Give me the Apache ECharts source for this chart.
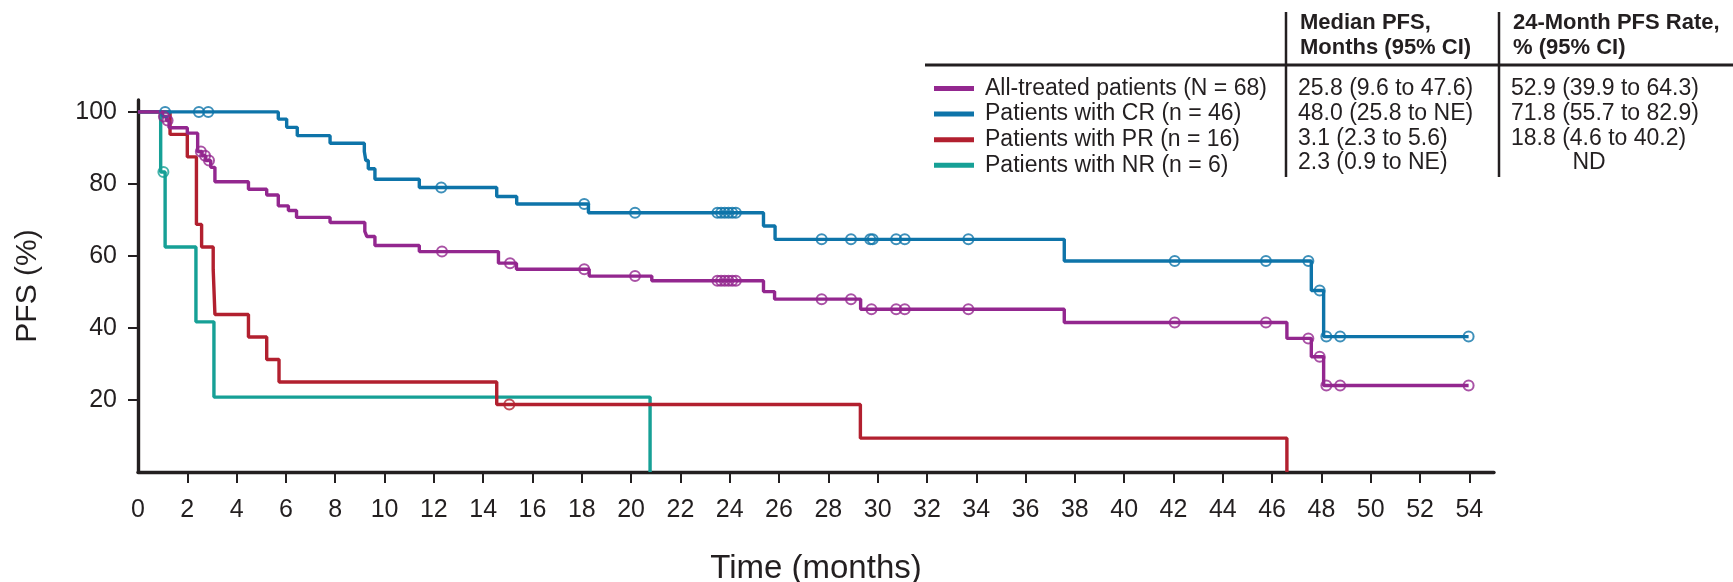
<!DOCTYPE html>
<html>
<head>
<meta charset="utf-8">
<script src="https://cdn.jsdelivr.net/npm/echarts@6/dist/echarts.min.js"></script>
<style>
html,body{margin:0;padding:0;background:#fff;}
#chart{width:1733px;height:582px;}
</style>
</head>
<body>
<div id="chart"></div>
<script>
// ---- Data ----
const seriesNames = [
  'All-treated patients (N = 68)',
  'Patients with CR (n = 46)',
  'Patients with PR (n = 16)',
  'Patients with NR (n = 6)'
];
const seriesColors = ['#93278F', '#0E74A9', '#B2202F', '#16A096'];

const allTimes  = [0, 1.0, 1.15, 1.26, 2.0, 2.42, 2.6, 2.75, 2.95, 3.12, 4.48, 5.22, 5.69, 6.1, 6.43, 7.79, 9.2, 9.28, 9.61, 11.41, 14.62, 15.35, 18.3, 20.84, 25.37, 25.82, 29.31, 37.57, 46.6, 47.59, 48.09, 53.97];
const allValues = [100, 98.7, 97.6, 95.6, 94.1, 89.0, 87.8, 86.5, 84.6, 80.6, 78.5, 76.9, 73.9, 72.6, 70.7, 69.3, 66.8, 65.4, 62.9, 61.2, 58.0, 56.3, 54.4, 53.1, 50.1, 48.0, 45.2, 41.5, 37.1, 32.0, 24.0, 24.0];
const allCensor = [1.05, 1.2, 2.55, 2.72, 2.88, 12.33, 15.09, 18.1, 20.16, 23.5, 23.65, 23.8, 23.95, 24.1, 24.25, 27.73, 28.92, 29.75, 30.75, 31.1, 33.68, 42.05, 45.75, 47.47, 47.93, 48.2, 48.76, 53.97];

const crTimes  = [0, 5.69, 6.03, 6.46, 7.79, 9.18, 9.24, 9.34, 9.61, 11.41, 14.55, 15.36, 18.27, 25.37, 25.84, 37.57, 47.59, 48.09, 53.97];
const crValues = [100, 98.0, 95.7, 93.4, 91.3, 89.0, 86.5, 84.2, 81.3, 79.0, 76.5, 74.4, 72.0, 68.3, 64.6, 58.6, 50.4, 37.6, 37.6];
const crCensor = [1.1, 2.47, 2.85, 12.3, 18.1, 20.16, 23.5, 23.65, 23.8, 23.95, 24.1, 24.25, 27.73, 28.92, 29.7, 29.8, 30.75, 31.1, 33.68, 42.05, 45.75, 47.47, 47.93, 48.2, 48.76, 53.97];

const prTimes  = [0, 1.3, 2.0, 2.37, 2.58, 3.05, 3.12, 4.48, 5.22, 5.72, 14.55, 29.3, 46.6];
const prValues = [100, 93.75, 87.5, 68.75, 62.5, 56.25, 43.75, 37.5, 31.25, 25.0, 18.75, 9.4, 0];
const prCensor = [15.06];

const nrTimes  = [0, 0.92, 1.1, 2.35, 3.08, 20.77];
const nrValues = [100, 83.3, 62.5, 41.7, 20.8, 0];
const nrCensor = [1.03];

const xTickValues = [0,2,4,6,8,10,12,14,16,18,20,22,24,26,28,30,32,34,36,38,40,42,44,46,48,50,52,54];
const yTickValues = [20, 40, 60, 80, 100];

const tableHeadMedian = ['Median PFS,', 'Months (95% CI)'];
const tableHeadRate   = ['24-Month PFS Rate,', '% (95% CI)'];
const medianText = ['25.8 (9.6 to 47.6)', '48.0 (25.8 to NE)', '3.1 (2.3 to 5.6)', '2.3 (0.9 to NE)'];
const rateText   = ['52.9 (39.9 to 64.3)', '71.8 (55.7 to 82.9)', '18.8 (4.6 to 40.2)', 'ND'];

// ---- Build ----
const INK = '#231f20';
const FONT = '"Liberation Sans", Arial, Helvetica, sans-serif';

function zip(t, v) { return t.map((x, i) => [x, v[i]]); }
function valueAt(t, v, x) {
  let k = 0;
  for (let i = 0; i < t.length; i++) { if (t[i] <= x) k = i; }
  return v[k];
}
function censorPts(t, v, c) { return c.map(x => [x, valueAt(t, v, x)]); }

const curves = [
  {t: allTimes, v: allValues, c: allCensor},
  {t: crTimes, v: crValues, c: crCensor},
  {t: prTimes, v: prValues, c: prCensor},
  {t: nrTimes, v: nrValues, c: nrCensor}
];

const series = [];
// draw order: NR, PR, CR, All (All on top)
[3, 2, 1, 0].forEach(i => {
  series.push({
    name: seriesNames[i], type: 'line', step: 'end',
    data: zip(curves[i].t, curves[i].v),
    showSymbol: false, symbol: 'none', clip: false,
    lineStyle: {color: seriesColors[i], width: 3.4},
    itemStyle: {color: seriesColors[i]},
    z: 2, silent: true
  });
});
[3, 2, 1, 0].forEach(i => {
  series.push({
    name: seriesNames[i] + ' censored', type: 'scatter',
    data: censorPts(curves[i].t, curves[i].v, curves[i].c),
    symbol: 'circle', symbolSize: 10,
    itemStyle: {color: 'rgba(255,255,255,0)', borderColor: seriesColors[i], borderWidth: 2},
    z: 3, silent: true
  });
});

// table graphics
const rowY0 = 89, rowStep = 24.6;
const graphics = [];
graphics.push({type: 'line', shape: {x1: 925, y1: 65, x2: 1733, y2: 65}, style: {stroke: INK, lineWidth: 3}});
graphics.push({type: 'line', shape: {x1: 1286, y1: 12, x2: 1286, y2: 177}, style: {stroke: INK, lineWidth: 2.5}});
graphics.push({type: 'line', shape: {x1: 1499, y1: 12, x2: 1499, y2: 177}, style: {stroke: INK, lineWidth: 2.5}});
tableHeadMedian.forEach((s, i) => graphics.push({type: 'text', x: 1300, y: 22.5 + i * 25.8,
  style: {text: s, fill: INK, font: 'bold 22px ' + FONT, textVerticalAlign: 'middle'}}));
tableHeadRate.forEach((s, i) => graphics.push({type: 'text', x: 1513, y: 22.5 + i * 25.8,
  style: {text: s, fill: INK, font: 'bold 22px ' + FONT, textVerticalAlign: 'middle'}}));
medianText.forEach((s, i) => graphics.push({type: 'text', x: 1298, y: rowY0 + i * rowStep,
  style: {text: s, fill: INK, font: '23px ' + FONT, textVerticalAlign: 'middle'}}));
rateText.forEach((s, i) => graphics.push({type: 'text', x: s === 'ND' ? 1589 : 1511, y: rowY0 + i * rowStep,
  style: {text: s, fill: INK, font: '23px ' + FONT, textVerticalAlign: 'middle', textAlign: s === 'ND' ? 'center' : 'left'}}));

const chart = echarts.init(document.getElementById('chart'), null, {renderer: 'canvas'});
chart.setOption({
  animation: false,
  backgroundColor: '#fff',
  grid: {left: 138, right: 239, top: 100, bottom: 110, containLabel: false, outerBoundsMode: 'none'},
  legend: {
    data: seriesNames.map((n, i) => ({name: n, icon: 'rect', itemStyle: {color: seriesColors[i]}})),
    orient: 'vertical', left: 929, top: 72,
    itemWidth: 40, itemHeight: 5, itemGap: 2.6,
    selectedMode: false,
    textStyle: {fontSize: 23, fontFamily: FONT, color: INK, lineHeight: 20.6, padding: [0, 0, 0, 6]}
  },
  xAxis: {
    type: 'value', min: 0, max: 55, interval: 2,
    name: 'Time (months)', nameLocation: 'middle', nameGap: 80,
    nameTextStyle: {fontSize: 33, fontFamily: FONT, color: INK},
    axisLine: {show: true, lineStyle: {color: INK, width: 3.4}},
    axisTick: {show: true, length: 11, lineStyle: {color: INK, width: 2}, customValues: xTickValues.filter(v => v > 0)},
    axisLabel: {fontSize: 25, fontFamily: FONT, color: INK, margin: 26, customValues: xTickValues},
    splitLine: {show: false}
  },
  yAxis: {
    type: 'value', min: 0, max: 103.3,
    name: 'PFS (%)', nameLocation: 'middle', nameGap: 95, nameRotate: 90,
    nameTextStyle: {fontSize: 30, fontFamily: FONT, color: INK},
    axisLine: {show: true, lineStyle: {color: INK, width: 3.4}},
    axisTick: {show: true, length: 10, lineStyle: {color: INK, width: 2}, customValues: yTickValues},
    axisLabel: {fontSize: 25, fontFamily: FONT, color: INK, margin: 21, customValues: yTickValues},
    splitLine: {show: false}
  },
  graphic: graphics,
  series: series
});
</script>
</body>
</html>
